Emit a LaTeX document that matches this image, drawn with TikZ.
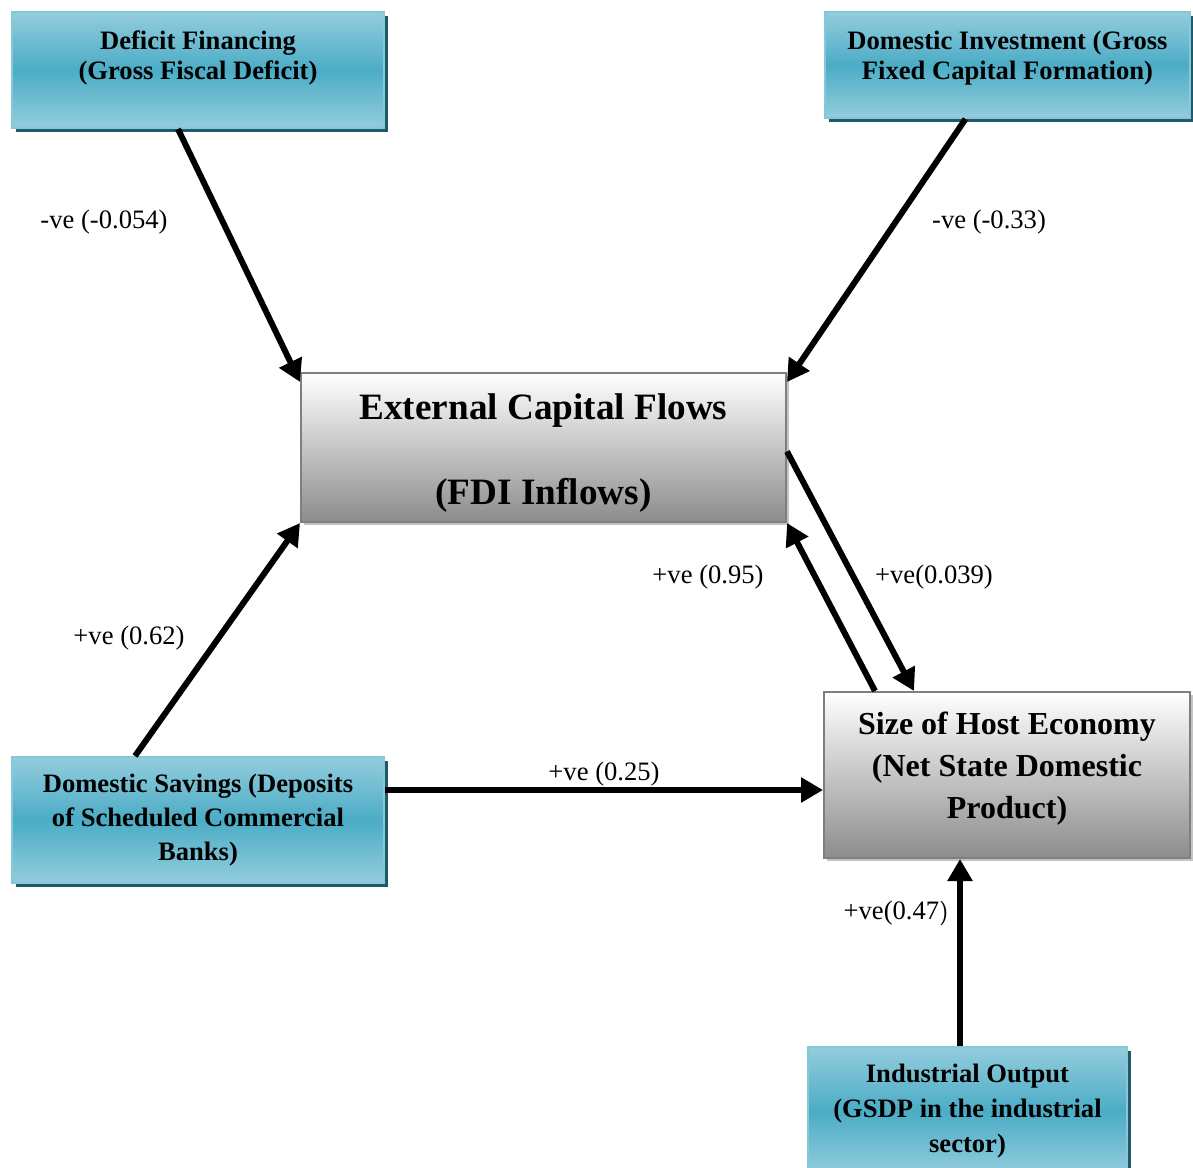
\documentclass[tikz,border=0pt]{standalone}
\usepackage{fontspec}
\setmainfont{Liberation Serif}
\usetikzlibrary{arrows.meta, shadows}
\definecolor{BoxBlueLight}{HTML}{93CDDD}
\definecolor{BoxBlue}{HTML}{4BACC6}
\definecolor{BoxBlueEdge}{HTML}{86C7D9}
\definecolor{BoxBlueShadow}{HTML}{215968}
\definecolor{BoxGreyEdge}{HTML}{7F7F7F}
\definecolor{BoxGreyShadow}{HTML}{C4C4C4}
\tikzset{
  bluebox/.style={draw=BoxBlueEdge, line width=1pt, top color=BoxBlueLight,
                  bottom color=BoxBlueLight, middle color=BoxBlue, inner sep=0pt,
                  align=center, font=\fontsize{13.3}{15}\selectfont\bfseries,
                  drop shadow={shadow xshift=2pt, shadow yshift=-2pt,
                               fill=BoxBlueShadow, opacity=1}},
  greybox/.style={draw=BoxGreyEdge, line width=1pt, top color=white,
                  bottom color=black!45, inner sep=0pt, align=center,
                  drop shadow={shadow xshift=1.5pt, shadow yshift=-1.5pt,
                               fill=BoxGreyShadow, opacity=1}},
  coef/.style={font=\fontsize{13.3}{16}\selectfont, inner sep=0pt},
  arrowfat/.style={-{Triangle[length=11pt, width=12pt]}, line width=3pt}
}

\begin{document}
\begin{tikzpicture}[x=0.5pt, y=-0.5pt]
  \useasboundingbox (0,0) rectangle (1193,1167);

  % boxes
  \node[bluebox, minimum width=186pt, minimum height=58pt] (defic) at (198,70)
    {Deficit Financing\\(Gross Fiscal Deficit)\\\mbox{}};
  \node[bluebox, minimum width=182.5pt, minimum height=53pt] (dominv) at (1007.5,65)
    {Domestic Investment (Gross\\Fixed Capital Formation)\\[-5pt]\mbox{}};
  \node[greybox, minimum width=242.5pt, minimum height=74.5pt,
        font=\fontsize{18.6}{42.5}\selectfont\bfseries] (ecf) at (543.5,447.5)
    {\rule{0pt}{18pt}External Capital Flows\\(FDI Inflows)};
  \node[greybox, minimum width=183pt, minimum height=83pt,
        font=\fontsize{16}{21}\selectfont\bfseries] (size) at (1007,775)
    {Size of Host Economy\\(Net State Domestic\\Product)\\[-11pt]\mbox{}};
  \node[bluebox, minimum width=186pt, minimum height=63pt,
        font=\fontsize{13.3}{17}\selectfont\bfseries] (savings) at (198,820)
    {Domestic Savings (Deposits\\of Scheduled Commercial\\Banks)};
  \node[bluebox, minimum width=159.5pt, minimum height=64pt,
        font=\fontsize{13.3}{17.5}\selectfont\bfseries] (indust) at (967.5,1111)
    {Industrial Output\\(GSDP in the industrial\\sector)};

  % arrows
  \draw[arrowfat] ([xshift=-10pt]defic.south) -- ([yshift=-5pt]ecf.north west);
  \draw[arrowfat] ([xshift=-21pt]dominv.south) -- ([yshift=-5pt]ecf.north east);
  \draw[arrowfat] ([xshift=-31.5pt]savings.north) -- (ecf.south west);
  \draw[arrowfat] ([yshift=15pt]savings.east) -- ([yshift=-7.5pt]size.west);
  \draw[arrowfat] ([yshift=-2pt]ecf.east) -- ([xshift=-46.5pt]size.north);
  \draw[arrowfat] ([xshift=-66pt]size.north) -- (ecf.south east);
  \draw[arrowfat] ([xshift=-3.75pt]indust.north) -- ([xshift=-23.5pt]size.south);

  % coefficients
  \node[coef] (cdefic)   at (104,222) {-ve (-0.054)};
  \node[coef] (cdominv)  at (989,222) {-ve (-0.33)};
  \node[coef] (csavecf)  at (129,638) {+ve (0.62)};
  \node[coef] (csavsize) at (604,774) {+ve (0.25)};
  \node[coef] (csizeecf) at (708,577) {+ve (0.95)};
  \node[coef] (cecfsize) at (934,577) {+ve(0.039)};
  \node[coef] (cindust)  at (896,913) {+ve(0.47\textsf{\large )}};
\end{tikzpicture}
\end{document}
